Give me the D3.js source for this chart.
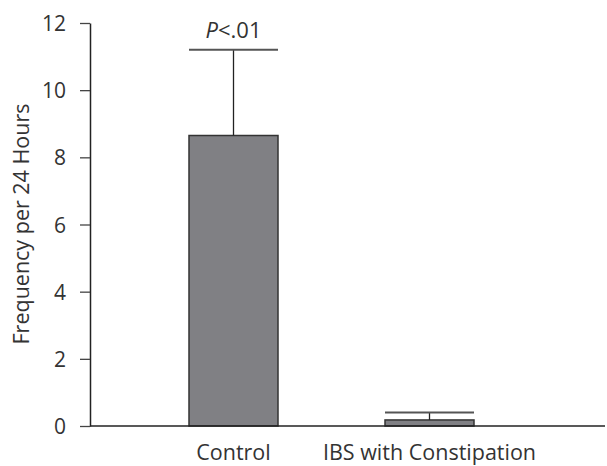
<!DOCTYPE html>
<html lang="en">
<head>
    <meta charset="UTF-8">
    <title>frequency</title>
    <style>
        body { margin: 0; background: #fff; }
        svg text { font-family: "Open Sans", sans-serif; fill: #333; }
    </style>
</head>
<body>
    <div id="chart"></div>
    <script src="https://d3js.org/d3.v7.min.js"></script>
    <script>
        // data
        var groups = ["Control", "IBS with Constipation"];
        var means = [8.65, 0.18];
        var errTop = [11.2, 0.4];
        var yTicks = [0, 2, 4, 6, 8, 10, 12];
        var sigLabel = "P<.01";

        var width = 607, height = 466;
        var left = 90, barW = 89;

        var svg = d3.select("#chart").append("svg")
            .attr("width", width)
            .attr("height", height);

        var y = d3.scaleLinear().domain([0, 12]).range([426, 23]);
        // bar centres
        var x = d3.scalePoint().domain(groups).range([233.5, 429.5]);

        // y axis
        var yAxis = svg.append("g")
            .attr("transform", "translate(" + left + ",0)")
            .call(d3.axisLeft(y).tickValues(yTicks).tickSize(10).tickSizeOuter(0).tickPadding(14));
        yAxis.attr("font-size", null).attr("font-family", null);
        yAxis.select(".domain").attr("stroke", "#222").attr("stroke-width", 1.5);
        yAxis.selectAll(".tick line").attr("stroke", "#444").attr("stroke-width", 1.3);
        yAxis.selectAll(".tick text")
            .attr("fill", "#333")
            .style("font-size", "21px").attr("dy", "0.36em");

        svg.append("text")
            .attr("transform", "translate(29,224) rotate(-90)")
            .attr("text-anchor", "middle")
            .style("font-size", "21.5px")
            .text("Frequency per 24 Hours");

        // bars
        svg.selectAll(".bar").data(groups).enter().append("rect")
            .attr("x", function (d) { return x(d) - barW / 2; })
            .attr("width", barW)
            .attr("y", function (d, i) { return y(means[i]); })
            .attr("height", function (d, i) { return y(0) - y(means[i]); })
            .attr("fill", "#808084")
            .attr("stroke", "#333")
            .attr("stroke-width", 1.5);

        // error bars
        svg.selectAll(".err").data(groups).enter().append("line")
            .attr("x1", function (d) { return x(d); })
            .attr("x2", function (d) { return x(d); })
            .attr("y1", function (d, i) { return y(means[i]); })
            .attr("y2", function (d, i) { return y(errTop[i]); })
            .attr("stroke", "#222")
            .attr("stroke-width", 1.3);

        svg.selectAll(".cap").data(groups).enter().append("line")
            .attr("x1", function (d) { return x(d) - barW / 2; })
            .attr("x2", function (d) { return x(d) + barW / 2; })
            .attr("y1", function (d, i) { return y(errTop[i]); })
            .attr("y2", function (d, i) { return y(errTop[i]); })
            .attr("stroke", "#555")
            .attr("stroke-width", 2);

        // x axis
        var xAxis = svg.append("g")
            .attr("transform", "translate(0," + y(0) + ")");
        xAxis.append("line")
            .attr("x1", left).attr("x2", 605)
            .attr("stroke", "#222").attr("stroke-width", 1.5);
        xAxis.selectAll("text").data(groups).enter().append("text")
            .attr("x", function (d) { return x(d); })
            .attr("y", 34)
            .attr("text-anchor", "middle")
            .style("font-size", "21.5px")
            .text(function (d) { return d; });

        // significance label
        var sig = svg.append("text")
            .attr("x", x(groups[0]))
            .attr("y", y(errTop[0]) - 12)
            .attr("text-anchor", "middle")
            .style("font-size", "22px");
        sig.append("tspan").style("font-style", "italic").text(sigLabel.charAt(0));
        sig.append("tspan").text(sigLabel.slice(1));
    </script>
</body>
</html>
